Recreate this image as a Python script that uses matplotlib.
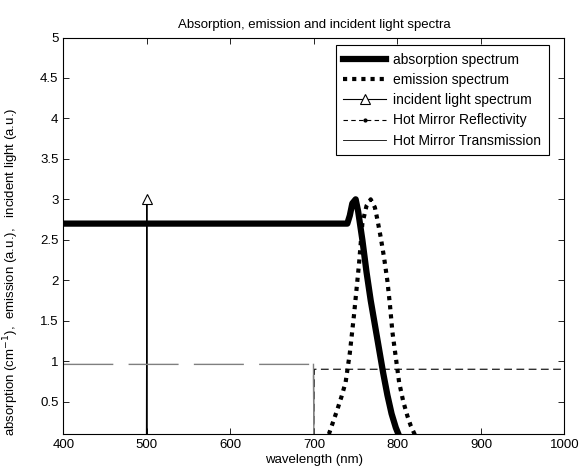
import numpy as np
import matplotlib
matplotlib.use('Agg')
import matplotlib.pyplot as plt
from matplotlib.lines import Line2D

plt.rcParams['font.family'] = ['Liberation Sans', 'DejaVu Sans']

# absorption spectrum (cm^-1)
abs_wl = [400, 740, 743, 746, 750, 753, 758, 763, 768, 773, 778, 783, 788, 793, 798, 803, 806]
abs_val = [2.7, 2.7, 2.8, 2.95, 3.0, 2.85, 2.5, 2.1, 1.75, 1.45, 1.15, 0.85, 0.58, 0.35, 0.18, 0.05, 0.0]

# emission spectrum (a.u.)
em_wl = [712, 718, 723, 728, 733, 738, 743, 748, 754, 758, 763, 768, 773, 776, 780,
         784, 788, 791, 794, 798, 802, 807, 812, 816, 820, 824]
em_val = [0.0, 0.1, 0.25, 0.4, 0.56, 0.74, 1.1, 1.57, 2.2, 2.7, 2.92, 3.0, 2.9, 2.75, 2.53,
          2.28, 1.99, 1.7, 1.36, 1.05, 0.74, 0.5, 0.32, 0.2, 0.11, 0.02]

# incident light (a.u.)
inc_wl = [400, 499.5, 500, 500.5, 1000]
inc_val = [0, 0, 3, 0, 0]

# hot mirror
refl_wl = [400, 700, 700.5, 1000]
refl_val = [0, 0, 0.9, 0.9]
trans_wl = [400, 699.5, 700, 1000]
trans_val = [0.96, 0.96, 0, 0]

fig = plt.figure(figsize=(5.84, 4.73), dpi=100)
ax = fig.add_axes([0.1084, 0.0825, 0.8582, 0.8382])

ax.plot(abs_wl, abs_val, '-', color='k', linewidth=4.5)
ax.plot(em_wl, em_val, color='k', linewidth=3, linestyle=(0, (1, 1.2)), dash_capstyle='butt')
ax.plot(inc_wl, inc_val, '-', color='k', linewidth=0.8, marker='^', markersize=7,
        markerfacecolor='white', markeredgecolor='k', markeredgewidth=0.8, markevery=[2])
ax.plot(refl_wl, refl_val, color='k', linewidth=0.8, linestyle=(0, (7, 4)))
ax.plot(trans_wl, trans_val, color='#7f7f7f', linewidth=1.0, linestyle=(0, (36, 11)))
ax.plot(trans_wl[1:3], trans_val[1:3], color='#7f7f7f', linewidth=1.0)

ax.set_xlim(400, 1000)
ax.set_ylim(0.1, 5)
ax.set_xticks(np.arange(400, 1001, 100))
ax.set_yticks(np.arange(0.5, 5.01, 0.5))
ax.set_yticklabels(['%g' % v for v in np.arange(0.5, 5.01, 0.5)])
ax.tick_params(direction='in', top=True, right=True, length=4, width=0.6, labelsize=9.5)
for s in ax.spines.values():
    s.set_linewidth(0.8)

ax.set_title('Absorption, emission and incident light spectra', fontsize=9.5, pad=7)
ax.set_xlabel('wavelength (nm)', fontsize=9.5, labelpad=2)
ax.set_ylabel('absorption (cm$^{-1}$),  emission (a.u.),   incident light (a.u.)', fontsize=9.5)
ax.yaxis.set_label_coords(-0.085, 0.41)

handles = [
    Line2D([], [], color='k', linewidth=4.5),
    Line2D([], [], color='k', linewidth=3, linestyle=(0, (1, 1.2)), dash_capstyle='butt'),
    Line2D([], [], color='k', linewidth=0.8, marker='^', markersize=7,
           markerfacecolor='white', markeredgecolor='k', markeredgewidth=0.8),
    Line2D([], [], color='k', linewidth=0.8, linestyle=(0, (4, 3)), marker='.', markersize=4),
    Line2D([], [], color='k', linewidth=0.6),
]
labels = ['absorption spectrum', 'emission spectrum', 'incident light spectrum',
          'Hot Mirror Reflectivity', 'Hot Mirror Transmission']
leg = ax.legend(handles, labels, loc='upper right', bbox_to_anchor=(0.969, 0.981),
                borderaxespad=0, fontsize=10, handlelength=3.1, handletextpad=0.5,
                labelspacing=0.45, borderpad=0.55, fancybox=False, framealpha=1)
leg.get_frame().set_edgecolor('k')
leg.get_frame().set_linewidth(0.8)

fig.savefig('out.png', dpi=100)
